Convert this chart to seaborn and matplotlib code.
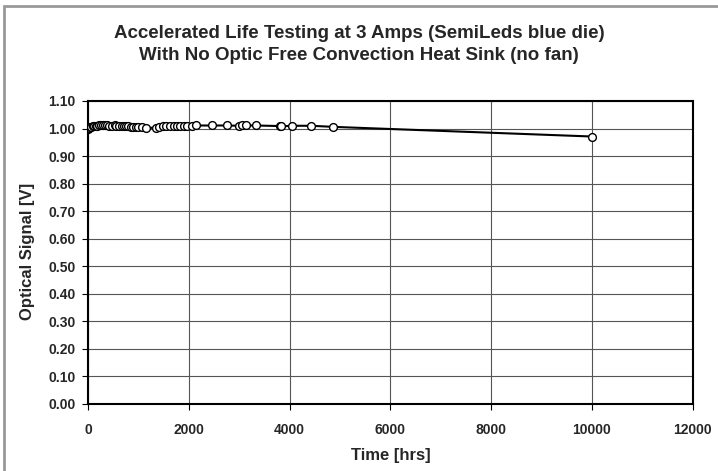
import matplotlib
matplotlib.use("Agg")
import matplotlib.pyplot as plt
import seaborn as sns
import numpy as np
import pandas as pd
from matplotlib.patches import Rectangle

time_hrs = [0, 20, 40, 60, 90, 120, 150, 180, 220, 260, 300, 340, 380, 420,
            480, 530, 560, 620, 680, 720, 760, 800, 850, 900, 950, 1000, 1070,
            1150, 1350, 1400, 1480, 1550, 1620, 1700, 1760, 1830, 1900, 1970,
            2070, 2150, 2470, 2760, 3000, 3060, 3130, 3340, 3800, 3830, 4050,
            4430, 4870, 10000]
signal_v = [1.000, 1.003, 1.005, 1.007, 1.008, 1.009, 1.010, 1.010, 1.011, 1.011,
            1.011, 1.011, 1.011, 1.010, 1.010, 1.011, 1.010, 1.009, 1.009, 1.008,
            1.008, 1.008, 1.007, 1.007, 1.006, 1.006, 1.005, 1.002, 1.003, 1.006,
            1.008, 1.008, 1.009, 1.009, 1.009, 1.009, 1.010, 1.010, 1.010, 1.011,
            1.011, 1.011, 1.010, 1.011, 1.011, 1.011, 1.009, 1.008, 1.010, 1.010,
            1.006, 0.971]

x_ticks = [0, 2000, 4000, 6000, 8000, 10000, 12000]
y_ticks = [0.0, 0.1, 0.2, 0.3, 0.4, 0.5, 0.6, 0.7, 0.8, 0.9, 1.0, 1.1]

title_lines = ["Accelerated Life Testing at 3 Amps (SemiLeds blue die)",
               "With No Optic Free Convection Heat Sink (no fan)"]

sns.set_theme(style="white")
plt.rcParams['font.family'] = ['Liberation Sans', 'DejaVu Sans']

df = pd.DataFrame({"Time [hrs]": time_hrs, "Optical Signal [V]": signal_v})

fig = plt.figure(figsize=(7.18, 4.71), dpi=100)
ax = fig.add_axes([0.1226, 0.1423, 0.8422, 0.6433])

sns.lineplot(data=df, x="Time [hrs]", y="Optical Signal [V]", ax=ax,
             color="black", linewidth=1.5, marker="o", markersize=5.6,
             markerfacecolor="white", markeredgecolor="black",
             markeredgewidth=1.0, estimator=None, sort=True, zorder=3)

ax.set_xlim(0, 12000)
ax.set_ylim(0, 1.1)
ax.set_xticks(x_ticks)
ax.set_yticks(y_ticks)
ax.set_xticklabels([str(v) for v in x_ticks], fontsize=10, fontweight="bold")
ax.set_yticklabels([f"{v:.2f}" for v in y_ticks], fontsize=10, fontweight="bold")
ax.grid(True, color="#555555", linewidth=0.8)
ax.set_axisbelow(True)
ax.tick_params(axis="both", which="both", direction="out", length=4,
               width=0.8, color="black", bottom=True, left=True)
ax.tick_params(axis="x", pad=10)
ax.tick_params(axis="y", pad=5)
for s in ax.spines.values():
    s.set_color("black")
    s.set_linewidth(1.5)

ax.set_xlabel("Time [hrs]", fontsize=12, fontweight="bold")
ax.set_ylabel("Optical Signal [V]", fontsize=12, fontweight="bold")
ax.xaxis.set_label_coords(0.5, -0.145)
ax.yaxis.set_label_coords(-0.088, 0.505)

fig.text(0.5, 1 - 33 / 471, title_lines[0], ha="center", va="center",
         fontsize=13.5, fontweight="bold")
fig.text(0.5, 1 - 55 / 471, title_lines[1], ha="center", va="center",
         fontsize=13.5, fontweight="bold")

fig.patches.append(Rectangle((4 / 718, -0.05), 1.1, 1.05 - 6 / 471,
                             transform=fig.transFigure, fill=False,
                             edgecolor="#999999", linewidth=2.0, figure=fig))

fig.savefig("out.png", dpi=100)
